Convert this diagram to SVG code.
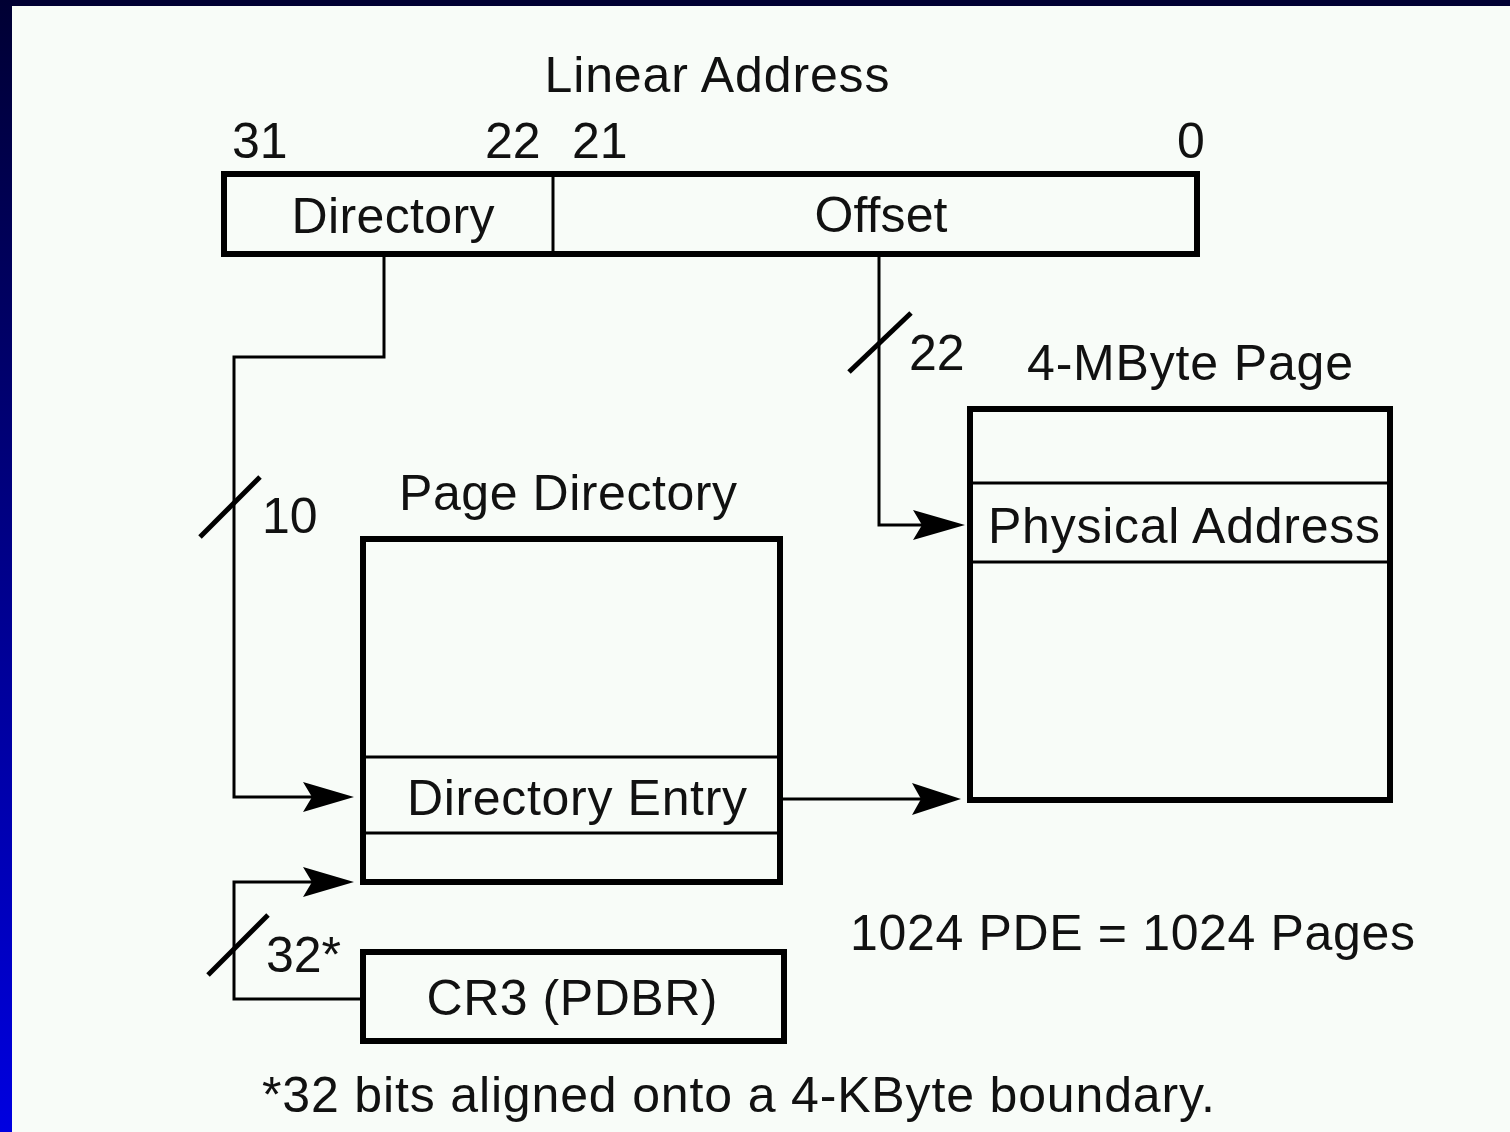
<svg xmlns="http://www.w3.org/2000/svg" width="1510" height="1132" viewBox="0 0 1510 1132">
<defs>
<linearGradient id="side" x1="0" y1="0" x2="0" y2="1">
<stop offset="0" stop-color="#000033"/>
<stop offset="1" stop-color="#0000e0"/>
</linearGradient>
<style>
.t{font-family:"Liberation Sans",Arial,sans-serif;font-size:50px;fill:#111}
.m{text-anchor:middle}
.box{fill:none;stroke:#000;stroke-width:6}
.div{stroke:#000;stroke-width:3;fill:none}
.wire{stroke:#000;stroke-width:3;fill:none}
.slash{stroke:#000;stroke-width:5;fill:none}
.ah{fill:#000}
</style>
</defs>
<rect x="0" y="0" width="1510" height="1132" fill="#f8fcf8"/>
<rect x="0" y="0" width="1510" height="6" fill="#000033"/>
<rect x="0" y="0" width="12" height="1132" fill="url(#side)"/>

<g id="linear-address">
<text class="t m" x="717" y="92" textLength="345" lengthAdjust="spacing">Linear Address</text>
<text class="t" x="232" y="158">31</text>
<text class="t" x="485" y="158">22</text>
<text class="t" x="572" y="158">21</text>
<text class="t" x="1177" y="158">0</text>
<rect class="box" x="224" y="174" width="973" height="80"/>
<line class="div" x1="553" y1="174" x2="553" y2="254"/>
<text class="t m" x="393" y="233" textLength="203" lengthAdjust="spacing">Directory</text>
<text class="t m" x="881" y="232" textLength="133" lengthAdjust="spacing">Offset</text>
</g>

<g id="page-directory">
<text class="t m" x="568" y="510" textLength="338" lengthAdjust="spacing">Page Directory</text>
<rect class="box" x="363" y="539" width="417" height="343"/>
<line class="div" x1="363" y1="757" x2="780" y2="757"/>
<line class="div" x1="363" y1="833" x2="780" y2="833"/>
<text class="t m" x="577" y="815" textLength="340" lengthAdjust="spacing">Directory Entry</text>
</g>

<g id="page-4mb">
<text class="t m" x="1190" y="380" textLength="326" lengthAdjust="spacing">4-MByte Page</text>
<rect class="box" x="970" y="409" width="420" height="391"/>
<line class="div" x1="970" y1="483" x2="1390" y2="483"/>
<line class="div" x1="970" y1="562" x2="1390" y2="562"/>
<text class="t" x="988" y="543" textLength="392" lengthAdjust="spacing">Physical Address</text>
</g>

<g id="cr3">
<rect class="box" x="363" y="952" width="421" height="89"/>
<text class="t m" x="572" y="1015" textLength="291" lengthAdjust="spacing">CR3 (PDBR)</text>
</g>

<g id="connectors">
<polyline class="wire" points="384,254 384,357 234,357 234,797 330,797"/>
<path class="ah" d="M354,797 L303,782 L312,797 L303,812 Z"/>
<line class="slash" x1="200" y1="537" x2="260" y2="477"/>
<text class="t" x="262" y="533">10</text>

<polyline class="wire" points="363,999 234,999 234,882 330,882"/>
<path class="ah" d="M354,882 L303,867 L312,882 L303,897 Z"/>
<line class="slash" x1="208" y1="975" x2="268" y2="915"/>
<text class="t" x="266" y="972">32*</text>

<polyline class="wire" points="879,254 879,525 940,525"/>
<path class="ah" d="M965,525 L913,510 L922,525 L913,540 Z"/>
<line class="slash" x1="849" y1="372" x2="911" y2="313"/>
<text class="t" x="909" y="370">22</text>

<line class="wire" x1="780" y1="799" x2="935" y2="799"/>
<path class="ah" d="M961,799 L912,783 L921,799 L912,815 Z"/>
</g>

<text class="t" x="850" y="950" textLength="565" lengthAdjust="spacing">1024 PDE = 1024 Pages</text>
<text class="t" x="262" y="1112" textLength="953" lengthAdjust="spacing">*32 bits aligned onto a 4-KByte boundary.</text>
</svg>
